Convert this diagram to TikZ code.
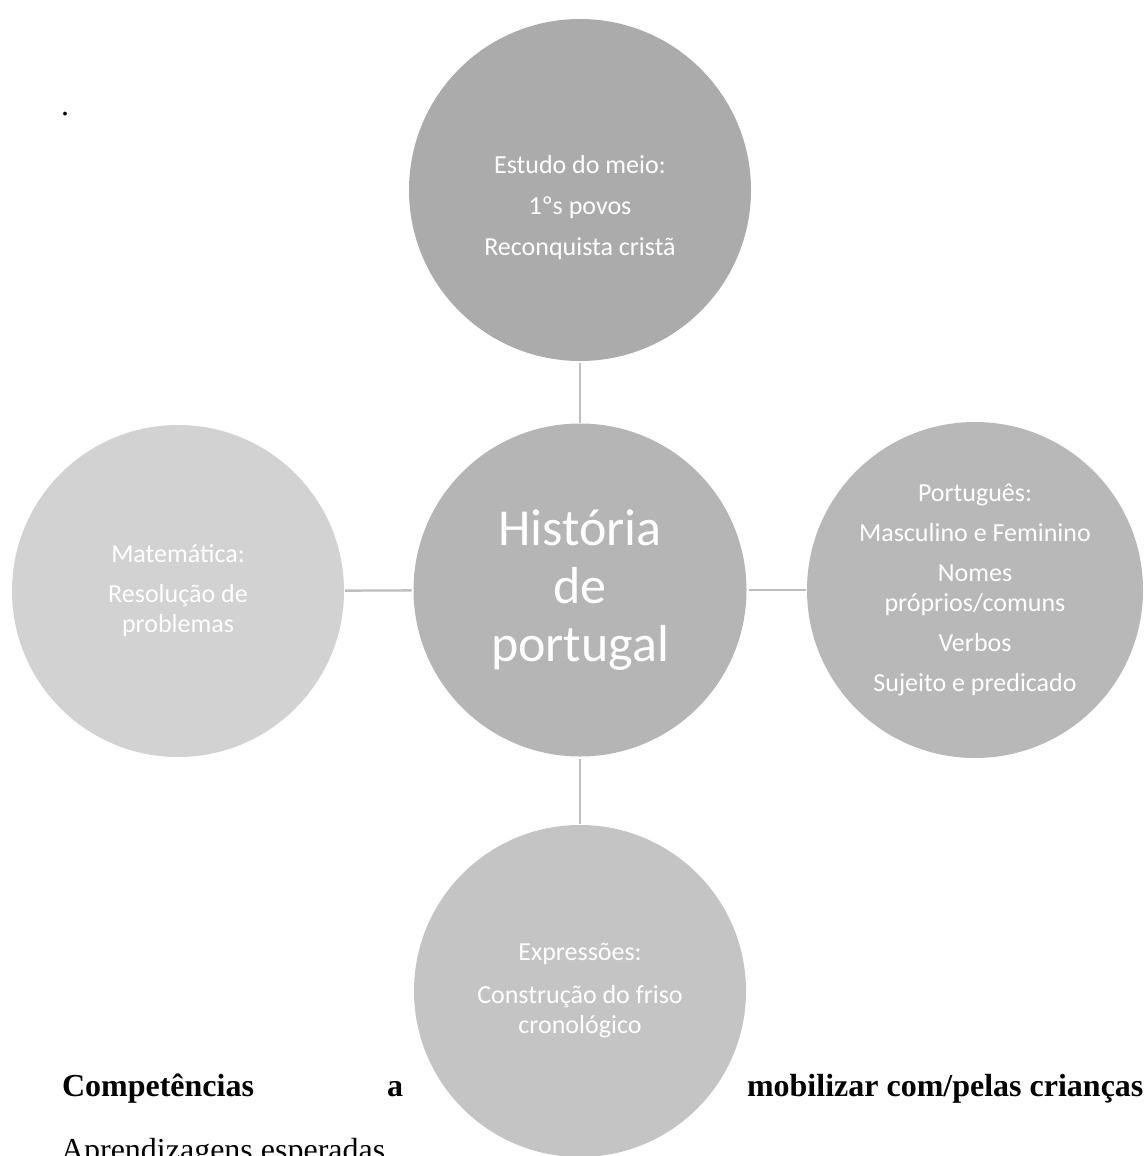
\documentclass[tikz,border=0pt]{standalone}
\usepackage{fontspec}
\setmainfont{Liberation Serif}
\newfontfamily\calib{Carlito}
\definecolor{fillA}{RGB}{171,171,171}
\definecolor{fillHub}{RGB}{181,181,181}
\definecolor{fillB}{RGB}{184,184,184}
\definecolor{fillC}{RGB}{196,196,196}
\definecolor{fillD}{RGB}{210,210,210}
\definecolor{linkcol}{RGB}{190,190,190}
\begin{document}
\begin{tikzpicture}[x=1pt,y=-1pt,
  bubble/.style={circle,inner sep=0pt,outer sep=0pt,draw=none,text=white,
    align=center,font=\calib\fontsize{26}{30}\selectfont},
  hubbubble/.style={bubble,font=\calib\fontsize{52}{58}\selectfont},
  link/.style={draw=linkcol,line width=2.4pt,shorten <=2pt,shorten >=1pt},
  prose/.style={inner sep=0pt,outer sep=0pt,anchor=base west,
    font=\fontsize{32}{38}\selectfont}]
\useasboundingbox (0,0) rectangle (1144,1156);
\clip (0,0) rectangle (1144,1156);

% running text of the page
\node[prose] (dot) at (61,115) {.};
\node[prose,font=\bfseries\fontsize{32}{38}\selectfont] (comp) at (62,1096) {Competências};
\node[prose,font=\bfseries\fontsize{32}{38}\selectfont] (prep) at (387,1096) {a};
\node[prose,font=\bfseries\fontsize{32}{38}\selectfont] (mob) at (747,1096) {mobilizar com/pelas crianças};
\node[prose] (apr) at (61,1160) {Aprendizagens esperadas};

% central topic and its four subjects
\node[hubbubble,fill=fillHub,minimum size=333pt] (hub) at (580,590)
  {História\\de\\portugal};
\node[bubble,fill=fillA,minimum size=342pt] (meio) at (580,190)
  {\mbox{}\\[23pt]Estudo do meio:\\[11pt]1ºs povos\\[11pt]Reconquista cristã};
\node[bubble,fill=fillB,minimum size=336pt] (port) at (975,590)
  {Português:\\[10pt]Masculino e Feminino\\[10pt]Nomes\\próprios/comuns\\[10pt]Verbos\\[10pt]Sujeito e predicado};
\node[bubble,fill=fillC,minimum size=332pt] (expr) at (580,991)
  {Expressões:\\[13pt]Construção do friso\\cronológico};
\node[bubble,fill=fillD,minimum size=332pt] (mat) at (178,591)
  {Matemática:\\[10pt]Resolução de\\problemas};

% spokes
\draw[link] (meio) -- (hub);
\draw[link] (hub) -- (port);
\draw[link] (hub) -- (expr);
\draw[link] (hub) -- (mat);
\end{tikzpicture}
\end{document}
